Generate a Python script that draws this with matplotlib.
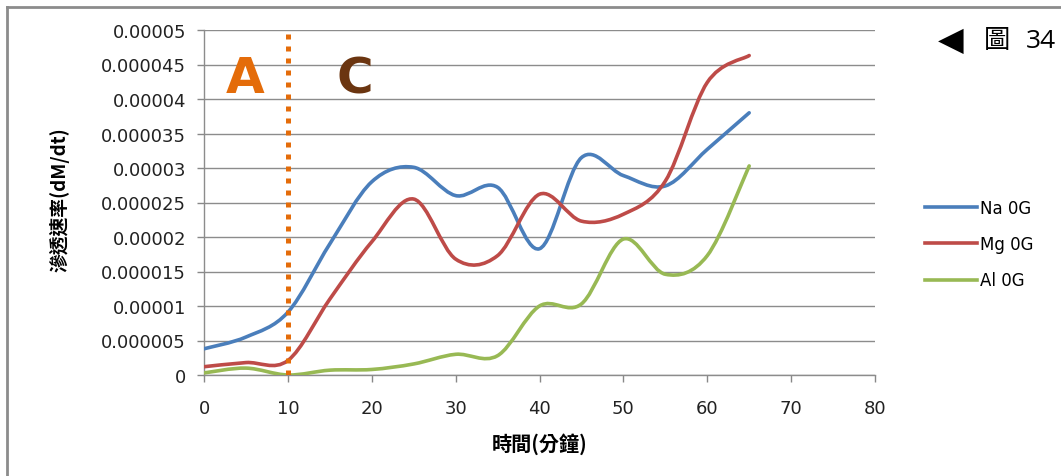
import numpy as np
import matplotlib
matplotlib.use('Agg')
import matplotlib.pyplot as plt
from matplotlib.path import Path
from matplotlib.patches import PathPatch
from matplotlib.lines import Line2D

plt.rcParams['font.family'] = ['DejaVu Sans', 'Noto Sans CJK TC']

# time (minutes)
minutes = [0, 5, 10, 15, 20, 25, 30, 35, 40, 45, 50, 55, 60, 65]
# rate values (x1e-6)
na_0g = [3.8, 5.5, 9.1, 19.0, 28.0, 30.1, 26.0, 27.2, 18.3, 31.5, 28.9, 27.4, 32.7, 38.0]
mg_0g = [1.2, 1.8, 2.1, 11.0, 19.3, 25.5, 16.8, 17.3, 26.2, 22.3, 23.3, 28.1, 42.4, 46.3]
al_0g = [0.3, 1.0, 0.0, 0.7, 0.8, 1.6, 3.0, 2.8, 10.0, 10.3, 19.7, 14.6, 17.3, 30.3]

series_names = ['Na 0G', 'Mg 0G', 'Al 0G']
series_colors = ['#4A7EBB', '#BE4B48', '#98B954']
yticks = [0, 5e-6, 1e-5, 1.5e-5, 2e-5, 2.5e-5, 3e-5, 3.5e-5, 4e-5, 4.5e-5, 5e-5]
ytick_labels = ['0', '0.000005', '0.00001', '0.000015', '0.00002', '0.000025',
                '0.00003', '0.000035', '0.00004', '0.000045', '0.00005']
xticks = [0, 10, 20, 30, 40, 50, 60, 70, 80]


def smooth_path(xs, ys):
    # excel-like smoothed line: cubic bezier through every point
    p = np.column_stack([xs, ys])
    pad = np.vstack([p[0], p, p[-1]])
    verts = [p[0]]
    codes = [Path.MOVETO]
    for i in range(1, len(pad) - 2):
        p0, p1, p2, p3 = pad[i - 1], pad[i], pad[i + 1], pad[i + 2]
        c1 = p1 + (p2 - p0) / 6.0
        c2 = p2 - (p3 - p1) / 6.0
        verts += [c1, c2, p2]
        codes += [Path.CURVE4] * 3
    return Path(verts, codes)


fig = plt.figure(figsize=(10.61, 4.77), dpi=100)
ax = fig.add_axes([204 / 1061, 1 - 376 / 477, 671 / 1061, 345 / 477])

x = np.array(minutes, dtype=float)
for vals, name, col in zip([na_0g, mg_0g, al_0g], series_names, series_colors):
    y = np.array(vals) * 1e-6
    patch = PathPatch(smooth_path(x, y), fill=False, edgecolor=col, lw=2.6,
                      capstyle='round', joinstyle='round', zorder=3)
    ax.add_patch(patch)
    ax.plot([], [], color=col, lw=2.6, label=name)

# boundary at 10 minutes
ax.plot([10, 10], [0, 4.95e-5], color='#E46C0A', lw=3.6, linestyle=(0, (1.0, 1.4)),
        dash_capstyle='butt', zorder=4)
ax.text(4.9, 4.3e-5, 'A', color='#E46C0A', fontsize=36, fontweight='heavy',
        ha='center', va='center')
ax.text(18.0, 4.3e-5, 'C', color='#6B3510', fontsize=36, fontweight='heavy',
        ha='center', va='center')

ax.set_xlim(0, 80)
ax.set_ylim(0, 5e-5)
ax.set_xticks(xticks)
ax.set_yticks(yticks)
ax.set_yticklabels(ytick_labels)
ax.tick_params(axis='both', labelsize=13, colors='#222222', length=5,
               color='#888888', width=1)
ax.tick_params(axis='x', pad=12)
ax.tick_params(axis='y', pad=8)
ax.yaxis.grid(True, color='#8c8c8c', lw=1)
ax.set_axisbelow(True)
for s in ['top', 'right']:
    ax.spines[s].set_visible(False)
for s in ['left', 'bottom']:
    ax.spines[s].set_color('#8c8c8c')
    ax.spines[s].set_linewidth(1)

ax.set_ylabel('滲透速率(dM/dt)', fontsize=13.5, fontweight='bold',
              family=['Noto Sans CJK TC', 'DejaVu Sans'])
ax.yaxis.set_label_coords(-0.2, 0.51)
ax.set_xlabel('時間(分鐘)', fontsize=14.5, fontweight='bold',
              family=['Noto Sans CJK TC', 'DejaVu Sans'])
ax.xaxis.set_label_coords(0.5, -0.165)

fig.legend(loc='center left', bbox_to_anchor=(910 / 1061, 1 - 245 / 477),
           frameon=False, fontsize=12, handlelength=3.1, handletextpad=0.2,
           labelspacing=1.1)

fig.text(951 / 1061, 1 - 40 / 477, '◀', fontsize=24, ha='center', va='center',
         family=['DejaVu Sans'])
fig.text(997 / 1061, 1 - 41 / 477, '圖', fontsize=19, ha='center', va='center',
         family=['Noto Sans CJK TC', 'DejaVu Sans'])
fig.text(1056 / 1061, 1 - 41 / 477, '34', fontsize=19, ha='right', va='center',
         family=['Open Sans', 'DejaVu Sans'])

# outer frame
fig.add_artist(Line2D([7 / 1061, 1], [1 - 8 / 477] * 2, color='#8c8c8c', lw=2))
fig.add_artist(Line2D([7 / 1061] * 2, [0, 1 - 8 / 477], color='#8c8c8c', lw=2))

fig.savefig('out.png', dpi=100)
